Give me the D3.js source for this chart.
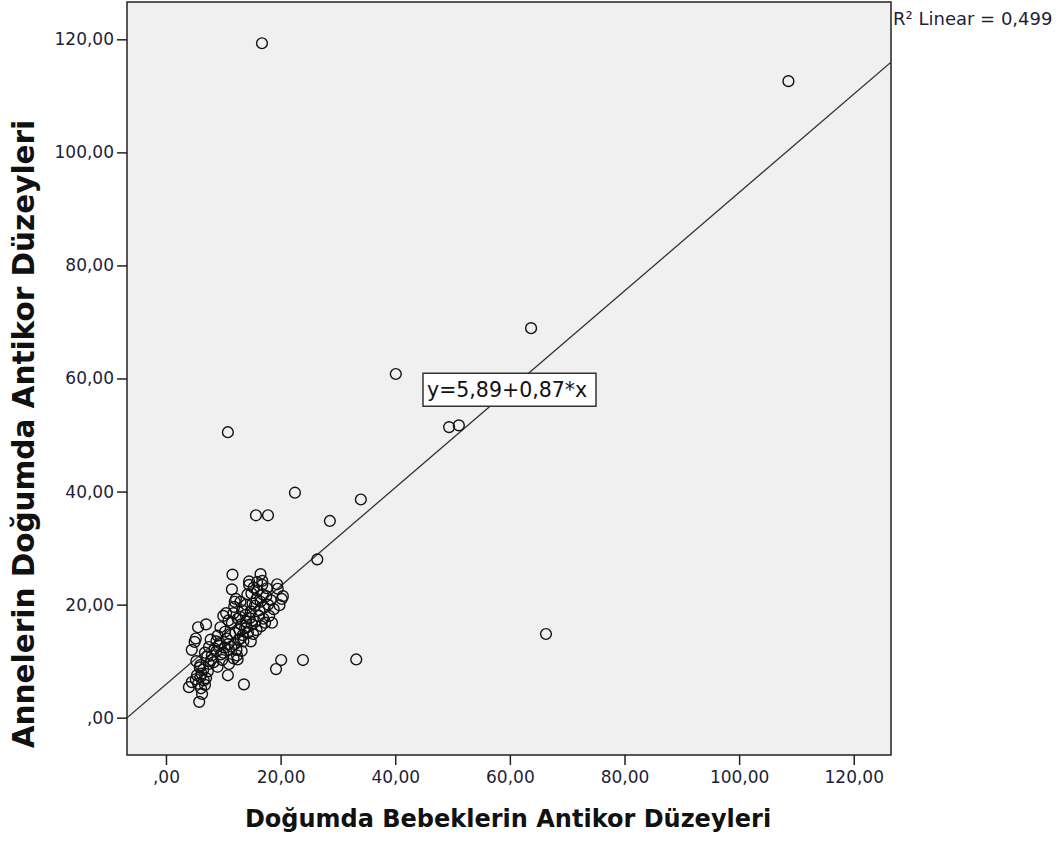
<!DOCTYPE html>
<html>
<head>
<meta charset="utf-8">
<script src="https://cdn.jsdelivr.net/npm/d3@7"></script>
<style>
  body { margin: 0; background: #fff; }
  text { font-family: "DejaVu Sans", sans-serif; }
</style>
</head>
<body>
<div id="chart"></div>
<script>
/** DATA */
// x = Doğumda Bebeklerin Antikor Düzeyleri, y = Annelerin Doğumda Antikor Düzeyleri
const babyLevels = [
  // lower-left part of the cluster
  4.0, 4.5, 5.2, 5.8, 6.3, 5.6, 6.0, 6.5, 5.3, 6.0, 4.5, 5.0, 5.2, 5.6, 7.0, 6.8, 7.5, 7.2, 8.0, 8.5, 7.8, 6.2, 7.0, 6.8, 7.5, 8.3,
  5.4, 6.6, 7.3, 8.8, 9.4, 7.9, 6.1, 5.9,
  // middle of the cluster
  9.0, 9.5, 10.0, 10.5, 9.2, 10.0, 10.8, 11.2, 11.5, 11.8, 12.0, 11.5, 11.6, 12.2, 12.5, 12.8, 13.0, 12.3, 11.0, 10.8, 11.8, 12.5,
  13.2, 13.5, 13.8, 14.0, 13.3, 13.0, 14.2, 14.5, 14.5, 13.6, 9.8, 9.0, 8.8, 10.3, 12.0, 11.0,
  10.6, 11.4, 12.7, 13.1, 13.9, 12.1, 10.2, 9.6, 11.9, 12.9, 13.4, 14.1, 10.9, 12.4,
  // upper part of the cluster
  14.8, 15.0, 15.2, 15.5, 15.8, 16.0, 16.5, 16.8, 16.2, 16.6, 17.0, 17.2, 17.5, 17.8, 18.0, 18.5, 14.3, 14.8, 15.8, 16.5,
  19.4, 19.5, 20.4, 19.8, 20.2, 18.8, 14.0, 15.3, 16.8,
  14.6, 15.1, 15.6, 16.3, 17.3, 14.9, 15.9, 16.9, 18.3, 17.6,
  // scattered points
  16.75, 108.6, 63.7, 40.1, 49.4, 51.1, 10.8, 66.3, 22.5, 34.0, 15.7, 17.8, 28.6, 26.4, 33.2, 23.9, 20.1, 19.2
];
const motherLevels = [
  5.4, 6.3, 6.8, 2.8, 4.2, 6.0, 7.2, 8.5, 10.0, 9.3, 12.0, 13.4, 14.0, 16.0, 16.5, 11.5, 12.5, 10.8, 11.0, 12.2, 13.8, 7.8, 7.0, 5.8, 9.5, 9.8,
  7.5, 6.6, 8.2, 11.8, 13.2, 10.2, 5.2, 8.9,
  14.5, 16.0, 18.0, 18.5, 12.8, 11.5, 13.0, 14.8, 16.8, 18.5, 20.5, 22.7, 25.3, 21.0, 17.5, 15.5, 14.0, 12.0, 9.5, 7.5, 10.5, 10.3,
  11.8, 13.5, 15.8, 17.0, 19.0, 20.5, 21.8, 23.5, 24.1, 5.9, 10.2, 9.0, 13.5, 15.2, 13.0, 12.0,
  14.0, 12.6, 13.8, 16.5, 18.2, 15.0, 12.4, 11.2, 19.6, 17.9, 14.6, 16.0, 17.2, 11.0,
  18.8, 16.5, 14.8, 19.8, 21.0, 22.5, 25.4, 24.2, 18.0, 16.2, 17.5, 19.5, 21.5, 20.0, 18.0, 16.8, 15.0, 13.5, 15.5, 20.5,
  23.6, 22.8, 21.5, 19.9, 21.0, 19.2, 20.0, 23.0, 23.5,
  17.6, 20.2, 17.0, 19.0, 16.8, 22.0, 24.0, 21.8, 20.8, 22.9,
  119.3, 112.6, 68.9, 60.8, 51.4, 51.7, 50.5, 14.8, 39.8, 38.6, 35.8, 35.8, 34.8, 28.0, 10.3, 10.2, 10.2, 8.6
];
const tickValues = [0, 20, 40, 60, 80, 100, 120];
const fitIntercept = 5.89, fitSlope = 0.87;
const fitLabel = "y=5,89+0,87*x";
const r2Label = "R² Linear = 0,499";
const xTitle = "Doğumda Bebeklerin Antikor Düzeyleri";
const yTitle = "Annelerin Doğumda Antikor Düzeyleri";

const points = babyLevels.map((x, i) => ({ x, y: motherLevels[i] }));

/** LAYOUT */
const width = 1064, height = 841;
const plot = { left: 127, right: 891, top: 2, bottom: 755 };

const svg = d3.select("#chart").append("svg")
  .attr("width", width)
  .attr("height", height);

const x = d3.scaleLinear().domain([-6.8, 126.5]).range([plot.left, plot.right]);
const y = d3.scaleLinear().domain([-6.6, 126.6]).range([plot.bottom, plot.top]);

const fmt = d => d === 0 ? ",00" : d.toFixed(2).replace(".", ",");

// plot background
svg.append("rect")
  .attr("x", plot.left).attr("y", plot.top)
  .attr("width", plot.right - plot.left).attr("height", plot.bottom - plot.top)
  .attr("fill", "#f0f0f0");

svg.append("clipPath").attr("id", "clip")
  .append("rect")
  .attr("x", plot.left).attr("y", plot.top)
  .attr("width", plot.right - plot.left).attr("height", plot.bottom - plot.top);

// axes
const xAxis = svg.append("g")
  .attr("transform", `translate(0,${plot.bottom})`)
  .call(d3.axisBottom(x).tickValues(tickValues).tickSize(10).tickPadding(6).tickFormat(fmt));
const yAxis = svg.append("g")
  .attr("transform", `translate(${plot.left},0)`)
  .call(d3.axisLeft(y).tickValues(tickValues).tickSize(10).tickPadding(3).tickFormat(fmt));

[xAxis, yAxis].forEach(g => {
  g.select(".domain").remove();
  g.selectAll(".tick line").attr("stroke", "#222").attr("stroke-width", 1.5);
  g.selectAll(".tick text")
    .attr("fill", "#1e1e38")
    .style("font-size", "17px")
    .style("font-family", "DejaVu Sans, sans-serif");
});

// regression line
svg.append("line")
  .attr("clip-path", "url(#clip)")
  .attr("x1", x(x.domain()[0])).attr("y1", y(fitIntercept + fitSlope * x.domain()[0]))
  .attr("x2", x(x.domain()[1])).attr("y2", y(fitIntercept + fitSlope * x.domain()[1]))
  .attr("stroke", "#333")
  .attr("stroke-width", 1.3);

// points
svg.append("g")
  .selectAll("circle")
  .data(points)
  .join("circle")
  .attr("cx", d => x(d.x))
  .attr("cy", d => y(d.y))
  .attr("r", 5.4)
  .attr("fill", "none")
  .attr("stroke", "#111")
  .attr("stroke-width", 1.4);

// frame
svg.append("rect")
  .attr("x", plot.left).attr("y", plot.top)
  .attr("width", plot.right - plot.left).attr("height", plot.bottom - plot.top)
  .attr("fill", "none")
  .attr("stroke", "#222")
  .attr("stroke-width", 1.5);

// fit equation box
const eq = svg.append("g").attr("transform", `translate(423,${y(58.1)})`);
eq.append("rect")
  .attr("x", 0).attr("y", -16)
  .attr("width", 173).attr("height", 33)
  .attr("fill", "#fff")
  .attr("stroke", "#333")
  .attr("stroke-width", 1.5);
eq.append("text")
  .attr("x", 4).attr("y", 1)
  .attr("dy", "0.35em")
  .style("font-size", "20.5px")
  .attr("fill", "#111")
  .text(fitLabel);

// R² label
svg.append("text")
  .attr("x", plot.right + 2).attr("y", 25)
  .style("font-size", "18px")
  .attr("fill", "#1e1e38")
  .text(r2Label);

// axis titles
svg.append("text")
  .attr("x", 508).attr("y", 827)
  .attr("text-anchor", "middle")
  .style("font-size", "24px")
  .style("font-weight", "bold")
  .attr("fill", "#111")
  .text(xTitle);

svg.append("text")
  .attr("transform", `translate(34,434) rotate(-90)`)
  .attr("text-anchor", "middle")
  .style("font-size", "29.5px")
  .style("font-weight", "bold")
  .attr("fill", "#111")
  .text(yTitle);
</script>
</body>
</html>
